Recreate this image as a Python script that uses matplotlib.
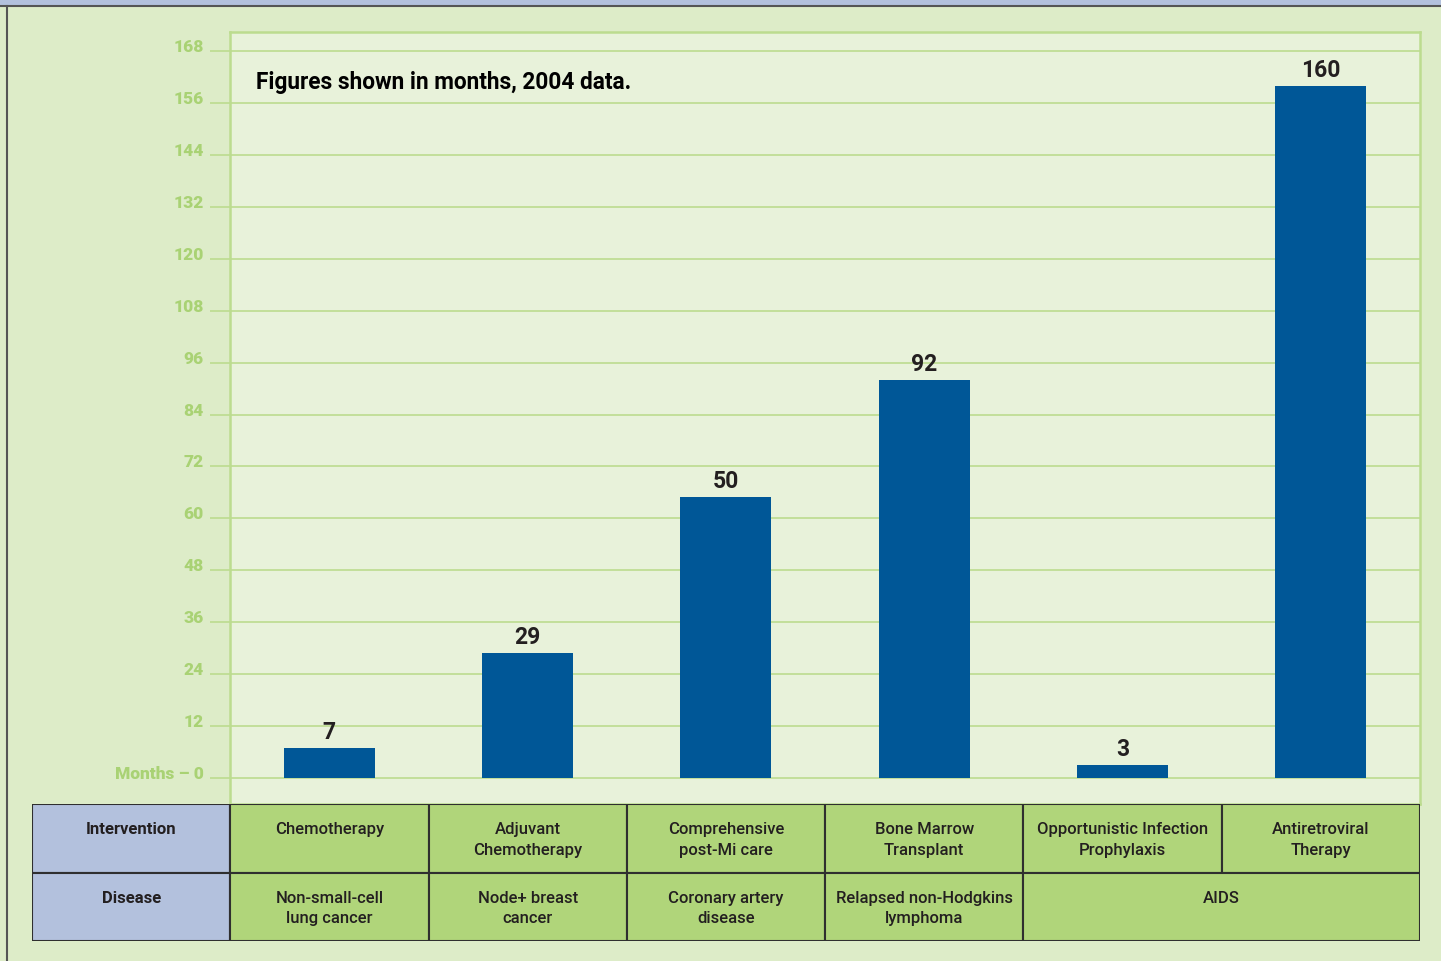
import matplotlib.pyplot as plt
from matplotlib.patches import Rectangle
from matplotlib.lines import Line2D
import numpy as np

# Data
bar_heights = [7, 29, 65, 92, 3, 160]
value_labels = ['7', '29', '50', '92', '3', '160']
interventions = ['Chemotherapy', 'Adjuvant\nChemotherapy', 'Comprehensive\npost-Mi care',
                 'Bone Marrow\nTransplant', 'Opportunistic Infection\nProphylaxis',
                 'Antiretroviral\nTherapy']
diseases = ['Non-small-cell\nlung cancer', 'Node+ breast\ncancer', 'Coronary artery\ndisease',
            'Relapsed non-Hodgkins\nlymphoma', 'AIDS']
disease_spans = [1, 1, 1, 1, 2]
row_headers = ['Intervention', 'Disease']
yticks = np.arange(0, 169, 12)
ytick_labels = ['Months \u2013 0'] + [str(v) for v in yticks[1:]]

# Colours
outer_bg = '#ddecc8'
plot_bg = '#e8f2da'
grid_col = '#bcdc8f'
tick_col = '#a9d274'
bar_col = '#005797'
cell_col = '#b0d57a'
head_col = '#b3c1dd'
text_col = '#231f20'
edge_col = '#2f2f2f'

font = ['Roboto', 'DejaVu Sans']
plt.rcParams['font.family'] = font

W, H = 1441, 962
fig = plt.figure(figsize=(W / 100, H / 100), dpi=100)
fig.patch.set_facecolor(outer_bg)

# Frame: blue band at top and dark line on the left
fig.add_artist(Rectangle((0, 1 - 6 / H), 1, 6 / H, transform=fig.transFigure,
                         facecolor=head_col, edgecolor='none'))
fig.add_artist(Line2D([0, 1], [1 - 6.5 / H] * 2, transform=fig.transFigure,
                      color='#555555', lw=1.5))
fig.add_artist(Line2D([6.5 / W] * 2, [0, 1 - 6.5 / H], transform=fig.transFigure,
                      color='#555555', lw=1.5))

# Bar chart axes
left, right, top, bottom = 230, 1420, 33, 805
ax = fig.add_axes([left / W, 1 - bottom / H, (right - left) / W, (bottom - top) / H])
ax.set_facecolor(plot_bg)
x = np.arange(len(bar_heights))
ax.set_xlim(-0.5, 5.5)
ax.set_ylim(-6, 172.4)
ax.set_axisbelow(True)
ax.yaxis.grid(True, color=grid_col, lw=1.2)
ax.bar(x, bar_heights, width=0.46, color=bar_col, zorder=3)
for xi, h, lbl in zip(x, bar_heights, value_labels):
    ax.annotate(lbl, (xi, h), xytext=(0, 3.5), textcoords='offset points',
                ha='center', va='bottom', fontsize=16.5, fontweight='bold', color=text_col)

ax.set_xticks([])
ax.set_yticks(yticks)
ax.tick_params(axis='y', length=14.4, width=1.2, color=grid_col, pad=4.5,
               labelcolor=tick_col, labelsize=12.5)
ax.set_yticklabels(ytick_labels)
for t in ax.get_yticklabels():
    t.set_fontweight('heavy')
    t.set_verticalalignment('baseline')
for s in ax.spines.values():
    s.set_color(grid_col)
    s.set_linewidth(1.8)

ax.text(-0.37, 161.0, 'Figures shown in months, 2004 data.', ha='left', va='center',
        fontsize=16.3, fontweight='bold', color='black')

# Table below the chart
tleft, tright, ttop, tbottom = 32, 1420, 805, 942
tab = fig.add_axes([tleft / W, 1 - tbottom / H, (tright - tleft) / W, (tbottom - ttop) / H])
tab.set_xlim(-1.5, 5.5)
tab.set_ylim(2, 0)
tab.axis('off')

lw = 1.5
fs = 12
# header column
for r, name in enumerate(row_headers):
    tab.add_patch(Rectangle((-1.5, r), 1, 1, facecolor=head_col, edgecolor=edge_col, lw=lw))
    tab.text(-1.0, r + 0.25, name, ha='center', va='top', fontsize=fs,
             fontweight='bold', color=text_col)
# intervention row
for c, name in enumerate(interventions):
    tab.add_patch(Rectangle((c - 0.5, 0), 1, 1, facecolor=cell_col, edgecolor=edge_col, lw=lw))
    tab.text(c, 0.25, name, ha='center', va='top', fontsize=fs, fontweight='medium',
             color=text_col, linespacing=1.45)
# disease row
c = 0
for name, span in zip(diseases, disease_spans):
    tab.add_patch(Rectangle((c - 0.5, 1), span, 1, facecolor=cell_col, edgecolor=edge_col, lw=lw))
    tab.text(c - 0.5 + span / 2, 1.25, name, ha='center', va='top', fontsize=fs,
             fontweight='medium', color=text_col, linespacing=1.45)
    c += span

fig.savefig('out.png', dpi=100, facecolor=fig.get_facecolor())
